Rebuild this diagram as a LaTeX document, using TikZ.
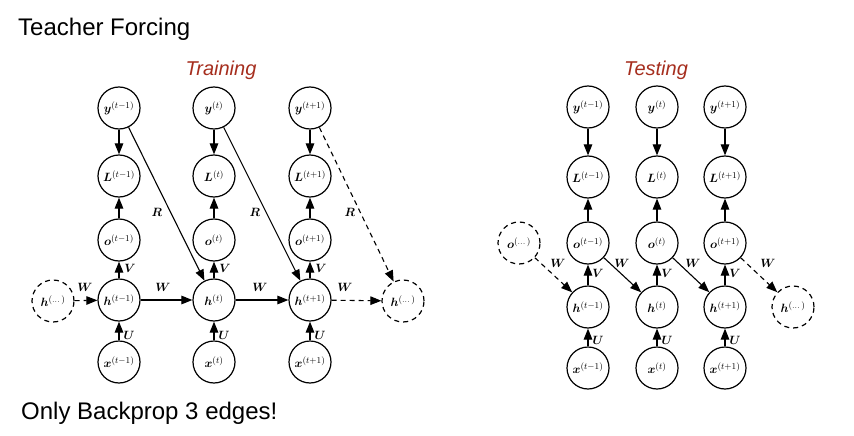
\documentclass[tikz,border=0pt]{standalone}
\usepackage{amsmath,bm}
\usepackage{fontspec}
\setmainfont{Liberation Sans}
\usetikzlibrary{arrows.meta}
\definecolor{tred}{RGB}{166,46,30}
\begin{document}
\begin{tikzpicture}[x=1pt,y=-1pt,
 nd/.style={circle,draw,line width=1.2pt,minimum size=42pt,inner sep=0pt,font=\fontsize{13}{14}\selectfont},
 dnd/.style={nd,dash pattern=on 5pt off 4pt},
 ar/.style={line width=1.1pt,-{Triangle[length=11pt,width=8.5pt]}},
 dar/.style={ar,dash pattern=on 5pt off 4pt},
 lb/.style={font=\fontsize{11.5}{12}\selectfont,inner sep=0pt},
 ttl/.style={font=\fontsize{24}{28}\selectfont,anchor=base west,inner sep=0pt},
 sub/.style={font=\fontsize{20}{24}\selectfont\itshape,text=tred,anchor=base,inner sep=0pt}]
\path[use as bounding box,fill=white] (0,0) rectangle (854,436);

\node[ttl] (t1) at (18,36) {Teacher Forcing};
\node[ttl] (t2) at (21,419) {Only Backprop 3 edges!};
\node[sub] (tr) at (221,75) {Training};
\node[sub] (te) at (656,75) {Testing};

% ---------- Training ----------
\foreach \n/\x/\s in {a/119/t-1, b/214/t, c/310/t+1} {
  \node[nd] (ty\n) at (\x,108) {$\bm{y}^{(\s)}$};
  \node[nd] (tL\n) at (\x,176) {$\bm{L}^{(\s)}$};
  \node[nd] (to\n) at (\x,240) {$\bm{o}^{(\s)}$};
  \node[nd] (th\n) at (\x,300) {$\bm{h}^{(\s)}$};
  \node[nd] (tx\n) at (\x,362) {$\bm{x}^{(\s)}$};
  \draw[ar] (ty\n) -- (tL\n);
  \draw[ar] (to\n) -- (tL\n);
  \draw[ar] (th\n) -- (to\n);
  \draw[ar] (tx\n) -- (th\n);
  \node[lb] (tV\n) at (\x+11,268) {$\bm{V}$};
  \node[lb] (tU\n) at (\x+10,335) {$\bm{U}$};
}
\node[dnd] (thl) at (53,301) {$\bm{h}^{(\dots)}$};
\node[dnd] (thr) at (403,301) {$\bm{h}^{(\dots)}$};
\draw[dar] (thl) -- (tha);
\draw[ar] (tha) -- (thb);
\draw[ar] (thb) -- (thc);
\draw[dar] (thc) -- (thr);
\draw[ar] (tya) -- (thb);
\draw[ar] (tyb) -- (thc);
\draw[dar] (tyc) -- (thr);
\node[lb] (tR1) at (157,212) {$\bm{R}$};
\node[lb] (tR2) at (255,212) {$\bm{R}$};
\node[lb] (tR3) at (350,212) {$\bm{R}$};
\node[lb] (tW1) at (85,287) {$\bm{W}$};
\node[lb] (tW2) at (163,287) {$\bm{W}$};
\node[lb] (tW3) at (260,287) {$\bm{W}$};
\node[lb] (tW4) at (345,287) {$\bm{W}$};

% ---------- Testing ----------
\foreach \n/\x/\s in {a/588/t-1, b/657/t, c/725/t+1} {
  \node[nd] (sy\n) at (\x,107) {$\bm{y}^{(\s)}$};
  \node[nd] (sL\n) at (\x,177) {$\bm{L}^{(\s)}$};
  \node[nd] (so\n) at (\x,243) {$\bm{o}^{(\s)}$};
  \node[nd] (sh\n) at (\x,307) {$\bm{h}^{(\s)}$};
  \node[nd] (sx\n) at (\x,368) {$\bm{x}^{(\s)}$};
  \draw[ar] (sy\n) -- (sL\n);
  \draw[ar] (so\n) -- (sL\n);
  \draw[ar] (sh\n) -- (so\n);
  \draw[ar] (sx\n) -- (sh\n);
  \node[lb] (sV\n) at (\x+10,273) {$\bm{V}$};
  \node[lb] (sU\n) at (\x+10,340) {$\bm{U}$};
}
\node[dnd] (sol) at (519,243) {$\bm{o}^{(\dots)}$};
\node[dnd] (shr) at (793,307) {$\bm{h}^{(\dots)}$};
\draw[dar] (sol) -- (sha);
\draw[ar] (soa) -- (shb);
\draw[ar] (sob) -- (shc);
\draw[dar] (soc) -- (shr);
\node[lb] (sW1) at (558,263) {$\bm{W}$};
\node[lb] (sW2) at (622,263) {$\bm{W}$};
\node[lb] (sW3) at (693,263) {$\bm{W}$};
\node[lb] (sW4) at (768,263) {$\bm{W}$};
\end{tikzpicture}
\end{document}
